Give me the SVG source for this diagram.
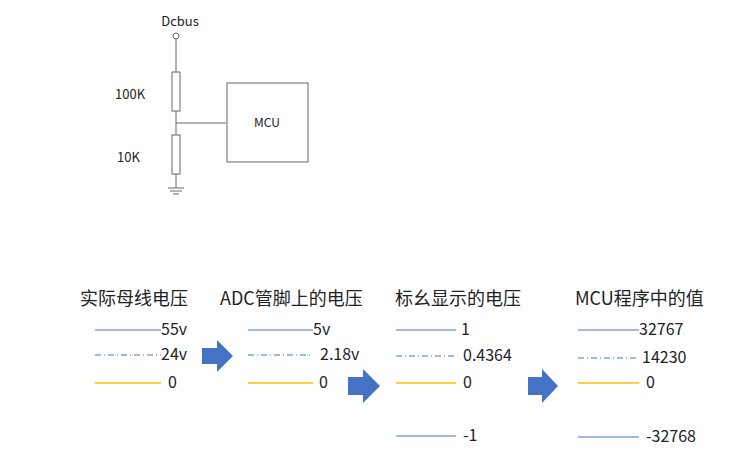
<svg xmlns="http://www.w3.org/2000/svg" width="741" height="466" viewBox="0 0 741 466">
<style>
text{font-family:"Noto Sans CJK SC","Liberation Sans",sans-serif;fill:#222}
.w{stroke:#666;stroke-width:1;fill:none}
.b{stroke:#4472c4;stroke-width:1.2}
.d{stroke:#4472c4;stroke-width:1.2;stroke-dasharray:6 3 1 3}
.y{stroke:#ffc000;stroke-width:1.5}
.t{font-size:16px}
.h{font-size:18px}
.ar{fill:#4472c4}
</style>
<rect width="741" height="466" fill="#fff"/>
<g id="circuit">
<text x="180" y="26" font-size="13" text-anchor="middle">Dcbus</text>
<circle cx="176" cy="36" r="3" class="w"/>
<path class="w" d="M176 39V72M176 111V135M176 174V188M176 123H226M168 188H184M170 191H182M173 194H179"/>
<rect x="172" y="72" width="8" height="39" class="w"/>
<rect x="172" y="135" width="8" height="39" class="w"/>
<text x="115" y="99" font-size="13">100K</text>
<text x="117" y="162" font-size="13">10K</text>
</g>
<g id="mcu"><rect x="227" y="83" width="81" height="79" class="w"/><text x="267" y="127" font-size="12" text-anchor="middle">MCU</text></g>
<g id="connectors">
<path class="ar" d="M202 348H217V340L233 356L217 372V364H202Z"/>
<path class="ar" d="M348 377H363V369L380 386L363 403V395H348Z"/>
<path class="ar" d="M528 377H542V369L558 386L542 403V395H528Z"/>
</g>
<g id="col1">
<text x="80" y="305" class="h">实际母线电压</text>
<line x1="95" y1="330" x2="161" y2="330" class="b"/><text x="161" y="335" class="t">55v</text>
<line x1="95" y1="355" x2="161" y2="355" class="d"/><text x="161" y="360" class="t">24v</text>
<line x1="95" y1="383" x2="161" y2="383" class="y"/><text x="168" y="388" class="t">0</text>
</g>
<g id="col2">
<text x="220" y="305" class="h">ADC管脚上的电压</text>
<line x1="248" y1="330" x2="313" y2="330" class="b"/><text x="313" y="335" class="t">5v</text>
<line x1="248" y1="355" x2="313" y2="355" class="d"/><text x="320" y="360" class="t">2.18v</text>
<line x1="248" y1="383" x2="313" y2="383" class="y"/><text x="319" y="388" class="t">0</text>
</g>
<g id="col3">
<text x="395" y="305" class="h">标幺显示的电压</text>
<line x1="396" y1="330" x2="456" y2="330" class="b"/><text x="461" y="335" class="t">1</text>
<line x1="396" y1="356" x2="456" y2="356" class="d"/><text x="463" y="361" class="t">0.4364</text>
<line x1="396" y1="383" x2="456" y2="383" class="y"/><text x="463" y="388" class="t">0</text>
<line x1="396" y1="436" x2="456" y2="436" class="b"/><text x="463" y="441" class="t">-1</text>
</g>
<g id="col4">
<text x="575" y="305" class="h">MCU程序中的值</text>
<line x1="578" y1="330" x2="639" y2="330" class="b"/><text x="639" y="335" class="t">32767</text>
<line x1="578" y1="358" x2="639" y2="358" class="d"/><text x="642" y="363" class="t">14230</text>
<line x1="578" y1="383" x2="639" y2="383" class="y"/><text x="646" y="388" class="t">0</text>
<line x1="578" y1="437" x2="639" y2="437" class="b"/><text x="646" y="442" class="t">-32768</text>
</g>
</svg>
